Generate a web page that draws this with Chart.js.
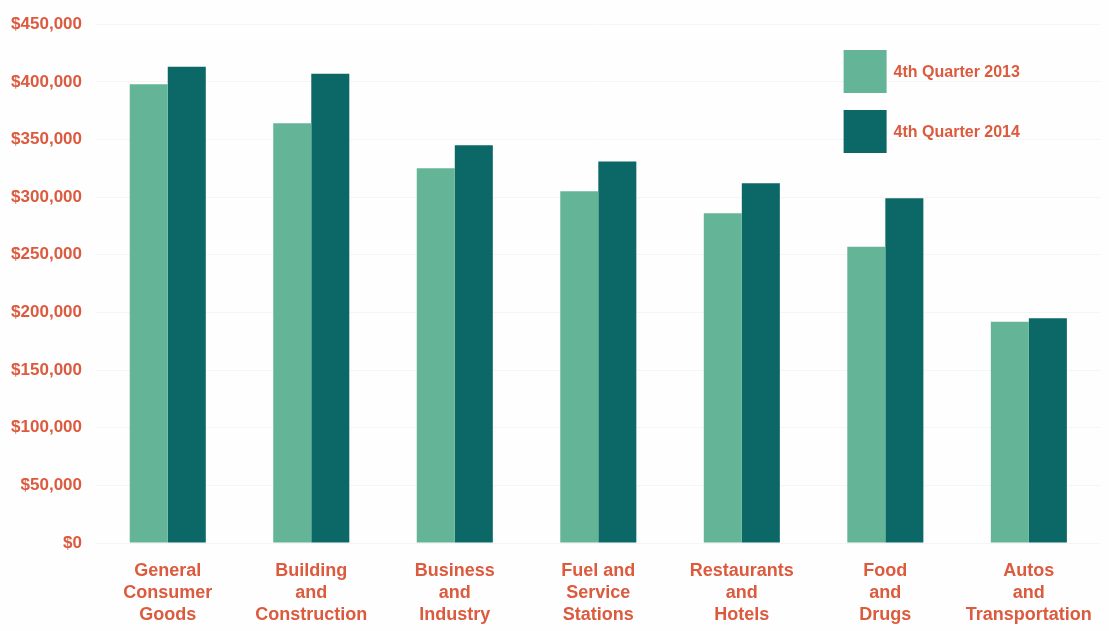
<!DOCTYPE html>
<html>
<head>
<meta charset="utf-8">
<script src="https://cdn.jsdelivr.net/npm/chart.js@4/dist/chart.umd.min.js"></script>
<style>
  html, body { margin: 0; padding: 0; background: #fefefe; }
  #wrap { width: 1109px; height: 631px; }
</style>
</head>
<body>
<div id="wrap"><canvas id="myChart" width="1109" height="631"></canvas></div>
<script>
'use strict';

// data
var categories = [
  ['General', 'Consumer', 'Goods'],
  ['Building', 'and', 'Construction'],
  ['Business', 'and', 'Industry'],
  ['Fuel and', 'Service', 'Stations'],
  ['Restaurants', 'and', 'Hotels'],
  ['Food', 'and', 'Drugs'],
  ['Autos', 'and', 'Transportation']
];
var seriesNames = ['4th Quarter 2013', '4th Quarter 2014'];
var q4_2013 = [398000, 364000, 325000, 305000, 286000, 257000, 192000];
var q4_2014 = [413000, 407000, 345000, 331000, 312000, 299000, 195000];
var yTicks = [0, 50000, 100000, 150000, 200000, 250000, 300000, 350000, 400000, 450000];

var red = '#dc5a3d';
var lightGreen = '#64b498';
var darkGreen = '#0c6866';
var font = "'Liberation Sans', Arial, sans-serif";

function money(v) {
  return '$' + v.toLocaleString('en-US');
}

// legend drawn inside the plot, top right
var boxLegend = {
  id: 'boxLegend',
  afterDraw: function(chart) {
    var c = chart.ctx;
    var x = chart.chartArea.right - 257;
    var y = 50;
    c.save();
    chart.data.datasets.forEach(function(ds, i) {
      c.fillStyle = ds.backgroundColor;
      c.fillRect(x, y + i * 60, 43, 43);
      c.fillStyle = red;
      c.font = 'bold 16px ' + font;
      c.textAlign = 'left';
      c.textBaseline = 'middle';
      c.fillText(ds.label, x + 50, y + i * 60 + 23);
    });
    c.restore();
  }
};

var ctx = document.getElementById('myChart').getContext('2d');
var chart = new Chart(ctx, {
  type: 'bar',
  data: {
    labels: categories,
    datasets: [{
      label: seriesNames[0],
      data: q4_2013,
      backgroundColor: lightGreen
    }, {
      label: seriesNames[1],
      data: q4_2014,
      backgroundColor: darkGreen
    }]
  },
  options: {
    responsive: false,
    animation: false,
    layout: { padding: { left: 4, right: 2, top: 18, bottom: 0 } },
    datasets: {
      bar: { categoryPercentage: 0.53, barPercentage: 1.0 }
    },
    plugins: {
      legend: { display: false },
      tooltip: { enabled: false }
    },
    scales: {
      x: {
        grid: { display: false, drawTicks: false },
        border: { display: false },
        ticks: {
          color: red,
          padding: 17,
          maxRotation: 0,
          autoSkip: false,
          font: { family: font, size: 18, weight: 'bold', lineHeight: 1.22 }
        },
        afterFit: function(s) { s.height = 88; }
      },
      y: {
        min: 0,
        max: 450000,
        afterBuildTicks: function(s) {
          s.ticks = yTicks.map(function(v) { return { value: v }; });
        },
        grid: { color: 'rgba(0,0,0,0.035)', drawTicks: false },
        border: { display: false },
        ticks: {
          color: red,
          padding: 14,
          font: { family: font, size: 17, weight: 'bold' },
          callback: function(v) { return money(v); }
        },
        afterFit: function(s) { s.width = 92; }
      }
    }
  },
  plugins: [boxLegend]
});
</script>
</body>
</html>
